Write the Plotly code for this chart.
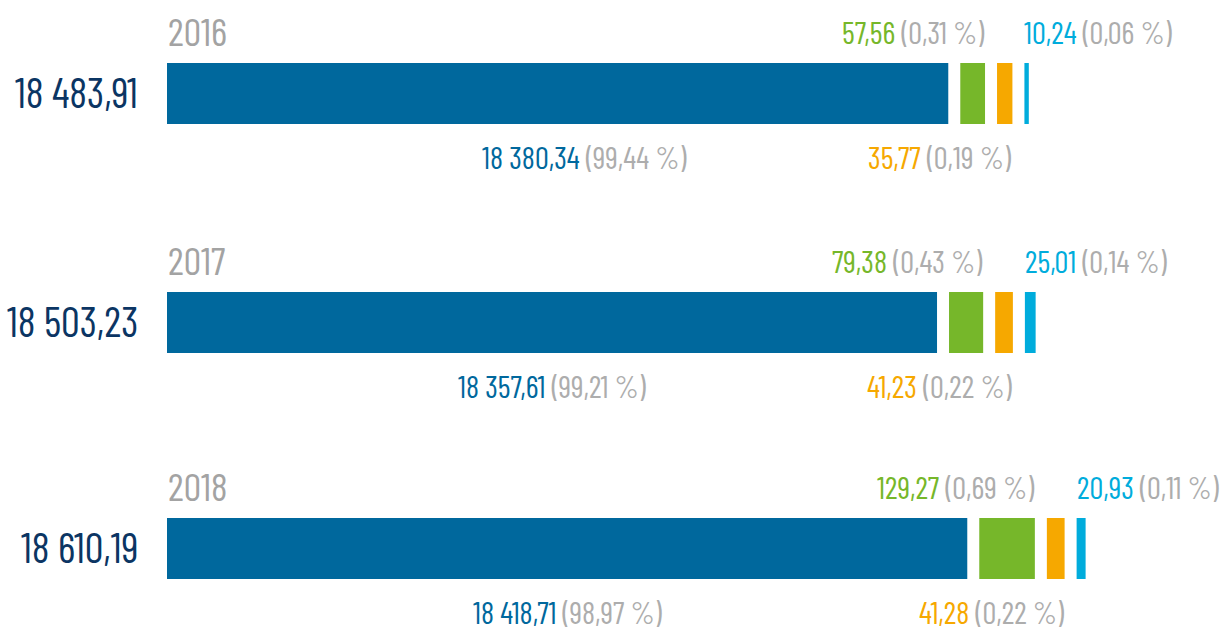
import plotly.graph_objects as go

# values
years = ["2016", "2017", "2018"]
totals = [18483.91, 18503.23, 18610.19]
blue_vals = [18380.34, 18357.61, 18418.71]
blue_pct = [99.44, 99.21, 98.97]
green_vals = [57.56, 79.38, 129.27]
green_pct = [0.31, 0.43, 0.69]
orange_vals = [35.77, 41.23, 41.28]
orange_pct = [0.19, 0.22, 0.22]
cyan_vals = [10.24, 25.01, 20.93]
cyan_pct = [0.06, 0.14, 0.11]

BLUE = "#00689d"
GREEN = "#76b72a"
ORANGE = "#f6a800"
CYAN = "#00acdc"
GREY = "#adadad"
NAVY = "#0b3563"
FONT = "Barlow Condensed, Roboto Condensed, sans-serif"

# layout in pixel units (x: 0..1220, y: 0..627 top-down)
X0 = 167
BAR_H = 61
ROW_Y = [93.5, 322.5, 548.5]
GAP = 12
BLUE_OFFSET, BLUE_K = 16802.0, 0.495  # big bar on a truncated scale
SMALL_K = 0.43  # small bars magnified
BLUE_LABEL_SHIFT = [26, 0, 0]


def fmt(v):
    s = f"{v:,.2f}"
    return s.replace(",", " ").replace(".", ",")


def label(val, pct, color):
    return (f"<span style='color:{color}'>{fmt(val)}</span>"
            f"<span style='color:{GREY}'> ({fmt(pct)} %)</span>")


fig = go.Figure()
annotations = []

for i, yr in enumerate(years):
    yc = ROW_Y[i]
    b_len = (blue_vals[i] - BLUE_OFFSET) * BLUE_K
    g_len = green_vals[i] * SMALL_K
    o_len = orange_vals[i] * SMALL_K
    c_len = cyan_vals[i] * SMALL_K
    b0 = X0
    g0 = b0 + b_len + GAP
    o0 = g0 + g_len + GAP
    c0 = o0 + o_len + GAP
    for base, length, col in [(b0, b_len, BLUE), (g0, g_len, GREEN),
                              (o0, o_len, ORANGE), (c0, c_len, CYAN)]:
        fig.add_trace(go.Bar(
            x=[length], y=[yc], base=[base], orientation="h",
            width=BAR_H, marker=dict(color=col, line_width=0),
            showlegend=False, hoverinfo="skip",
        ))

    annotations.append(dict(x=X0 - 1, y=yc - 63, text=yr, xanchor="left",
                            font=dict(size=39, color="#a3a3a3")))
    annotations.append(dict(x=140, y=yc - 3, text=fmt(totals[i]), xanchor="right",
                            font=dict(size=42, color=NAVY)))
    annotations.append(dict(x=g0 + g_len + 1, y=yc - 62,
                            text=label(green_vals[i], green_pct[i], GREEN),
                            xanchor="right", font=dict(size=31)))
    annotations.append(dict(x=c0 - 2, y=yc - 62,
                            text=label(cyan_vals[i], cyan_pct[i], CYAN),
                            xanchor="left", font=dict(size=31)))
    annotations.append(dict(x=b0 + b_len / 2 + BLUE_LABEL_SHIFT[i], y=yc + 63,
                            text=label(blue_vals[i], blue_pct[i], BLUE),
                            xanchor="center", font=dict(size=31)))
    annotations.append(dict(x=o0 + o_len + 1, y=yc + 63,
                            text=label(orange_vals[i], orange_pct[i], ORANGE),
                            xanchor="right", font=dict(size=31)))

for a in annotations:
    a.update(xref="x", yref="y", yanchor="middle", showarrow=False)
    a["font"]["family"] = FONT

fig.update_layout(
    width=1220, height=627,
    margin=dict(l=0, r=0, t=0, b=0),
    paper_bgcolor="white", plot_bgcolor="white",
    barmode="overlay",
    xaxis=dict(range=[0, 1220], visible=False, fixedrange=True),
    yaxis=dict(range=[627, 0], visible=False, fixedrange=True),
    annotations=annotations,
)

fig.write_html("out.html", config={"displayModeBar": False},
               post_script="document.body.style.margin='0';")
